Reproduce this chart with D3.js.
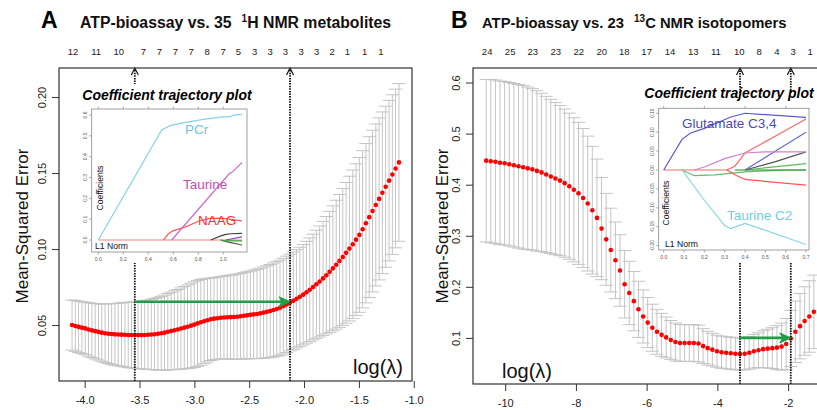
<!DOCTYPE html>
<html>
<head>
<meta charset="utf-8">
<script src="https://cdn.jsdelivr.net/npm/d3@7"></script>
<style>
  body { margin: 0; background: #fff; }
  svg { display: block; font-family: "Liberation Sans", Arial, sans-serif; }
</style>
</head>
<body>
<div id="chart"></div>
<script>
/* DATA — panel A (35 1H NMR metabolites) */
const logLambdaA = [
  -4.115,-4.085,-4.055,-4.025,-3.995,-3.965,-3.934,-3.904,-3.874,-3.844,
  -3.814,-3.784,-3.754,-3.724,-3.694,-3.664,-3.633,-3.603,-3.573,-3.543,
  -3.513,-3.483,-3.453,-3.423,-3.393,-3.363,-3.332,-3.302,-3.272,-3.242,
  -3.212,-3.182,-3.152,-3.122,-3.092,-3.062,-3.031,-3.001,-2.971,-2.941,
  -2.911,-2.881,-2.851,-2.821,-2.791,-2.761,-2.730,-2.700,-2.670,-2.640,
  -2.610,-2.580,-2.550,-2.520,-2.490,-2.460,-2.429,-2.399,-2.369,-2.339,
  -2.309,-2.279,-2.249,-2.219,-2.189,-2.159,-2.128,-2.098,-2.068,-2.038,
  -2.008,-1.978,-1.948,-1.918,-1.888,-1.858,-1.827,-1.797,-1.767,-1.737,
  -1.707,-1.677,-1.647,-1.617,-1.587,-1.556,-1.526,-1.496,-1.466,-1.436,
  -1.406,-1.376,-1.346,-1.316,-1.286,-1.256,-1.225,-1.195,-1.165,-1.135
];
const mseA = [
  0.0500,0.0494,0.0488,0.0483,0.0478,0.0471,0.0465,0.0460,0.0455,0.0450,
  0.0446,0.0443,0.0441,0.0439,0.0438,0.0437,0.0436,0.0435,0.0435,0.0434,
  0.0434,0.0434,0.0435,0.0436,0.0438,0.0440,0.0443,0.0446,0.0450,0.0456,
  0.0461,0.0466,0.0471,0.0477,0.0483,0.0489,0.0496,0.0503,0.0511,0.0518,
  0.0525,0.0532,0.0538,0.0542,0.0545,0.0548,0.0550,0.0551,0.0552,0.0553,
  0.0555,0.0558,0.0561,0.0564,0.0567,0.0570,0.0573,0.0577,0.0582,0.0587,
  0.0592,0.0599,0.0606,0.0614,0.0624,0.0636,0.0648,0.0660,0.0673,0.0686,
  0.0700,0.0716,0.0732,0.0750,0.0768,0.0787,0.0807,0.0828,0.0850,0.0873,
  0.0897,0.0922,0.0948,0.0975,0.1003,0.1032,0.1062,0.1093,0.1130,0.1170,
  0.1210,0.1250,0.1290,0.1330,0.1370,0.1410,0.1450,0.1490,0.1530,0.1570
];
const seA = [
  0.0165,0.0167,0.0169,0.0171,0.0173,0.0176,0.0179,0.0182,0.0185,0.0188,
  0.0192,0.0196,0.0200,0.0203,0.0206,0.0209,0.0212,0.0215,0.0217,0.0219,
  0.0221,0.0223,0.0225,0.0228,0.0231,0.0235,0.0239,0.0243,0.0247,0.0251,
  0.0255,0.0259,0.0263,0.0267,0.0271,0.0275,0.0279,0.0282,0.0283,0.0282,
  0.0279,0.0275,0.0271,0.0270,0.0270,0.0271,0.0272,0.0274,0.0276,0.0278,
  0.0280,0.0282,0.0284,0.0286,0.0288,0.0291,0.0294,0.0297,0.0300,0.0303,
  0.0306,0.0309,0.0311,0.0313,0.0315,0.0317,0.0318,0.0320,0.0323,0.0326,
  0.0330,0.0335,0.0341,0.0348,0.0356,0.0365,0.0375,0.0386,0.0398,0.0411,
  0.0424,0.0437,0.0450,0.0463,0.0476,0.0488,0.0499,0.0509,0.0517,0.0524,
  0.0529,0.0532,0.0533,0.0533,0.0532,0.0530,0.0528,0.0525,0.0522,0.0519
];
const topAtA  = [-4.106,-3.896,-3.69,-3.464,-3.318,-3.172,-3.029,-2.883,-2.737,-2.598,-2.45,-2.31,-2.17,-2.026,-1.886,-1.743,-1.606,-1.448,-1.30];
const topLabA = ["12","11","10","7","7","7","7","8","7","5","3","3","3","3","3","2","1","1","1"];

/* DATA — panel B (23 13C NMR isotopomers) */
const logLambdaB = [
  -10.537,-10.407,-10.276,-10.146,-10.015,-9.885,-9.754,-9.624,-9.493,-9.363,
  -9.232,-9.102,-8.971,-8.841,-8.710,-8.580,-8.449,-8.319,-8.188,-8.058,
  -7.927,-7.797,-7.666,-7.536,-7.405,-7.275,-7.144,-7.014,-6.883,-6.753,
  -6.622,-6.492,-6.361,-6.231,-6.100,-5.970,-5.839,-5.709,-5.578,-5.448,
  -5.317,-5.187,-5.056,-4.926,-4.795,-4.665,-4.534,-4.404,-4.273,-4.143,
  -4.012,-3.882,-3.751,-3.621,-3.490,-3.360,-3.229,-3.099,-2.968,-2.838,
  -2.707,-2.577,-2.446,-2.316,-2.185,-2.055,-1.924,-1.794,-1.663,-1.533,
  -1.402,-1.272
];
const mseB = [
  0.447,0.446,0.445,0.443,0.442,0.440,0.438,0.436,0.434,0.432,
  0.430,0.427,0.424,0.420,0.416,0.412,0.408,0.403,0.397,0.390,
  0.383,0.374,0.363,0.350,0.335,0.314,0.293,0.272,0.252,0.232,
  0.205,0.188,0.172,0.156,0.142,0.130,0.120,0.112,0.106,0.101,
  0.096,0.092,0.090,0.090,0.090,0.090,0.089,0.084,0.080,0.077,
  0.074,0.072,0.071,0.070,0.069,0.0686,0.069,0.071,0.074,0.076,
  0.078,0.079,0.080,0.081,0.083,0.088,0.099,0.112,0.123,0.133,
  0.142,0.151
];
const seB = [
  0.159,0.160,0.160,0.160,0.160,0.160,0.160,0.160,0.160,0.159,
  0.158,0.157,0.155,0.153,0.151,0.149,0.147,0.145,0.143,0.141,
  0.139,0.136,0.132,0.125,0.115,0.100,0.090,0.082,0.075,0.070,
  0.066,0.062,0.058,0.055,0.052,0.049,0.046,0.044,0.042,0.040,
  0.038,0.037,0.036,0.036,0.036,0.036,0.036,0.034,0.033,0.032,
  0.0314,0.0314,0.0314,0.0314,0.0314,0.0314,0.0314,0.032,0.033,0.034,
  0.036,0.038,0.040,0.043,0.046,0.050,0.055,0.060,0.064,0.067,
  0.070,0.072
];
const topAtB  = [-10.51,-9.86,-9.22,-8.57,-7.92,-7.27,-6.63,-6.00,-5.34,-4.68,-4.04,-3.38,-2.82,-2.32,-1.86,-1.38];
const topLabB = ["24","25","23","23","22","20","18","17","14","13","11","10","8","4","3","1"];

/* DATA — inset coefficient paths, [L1 norm, coefficient] */
// inset A
const pcrPath     = [[0,0],[0.507,0.528],[0.574,0.549],[0.654,0.56],[0.84,0.579],[0.974,0.59],[1.054,0.592],[1.08,0.6],[1.15,0.603]];
const taurinePath = [[0.587,0],[1.05,0.32],[1.07,0.325],[1.15,0.373]];
const naagPath    = [[0.52,0],[0.56,0.03],[0.6,0.045],[0.7,0.063],[0.8,0.09],[0.9,0.105],[1.0,0.104],[1.15,0.092]];
const zeroPathA   = [[0,0],[1.15,0]];
const blackPathA  = [[0.9,0],[0.98,0.02],[1.02,0.027],[1.06,0.03],[1.15,0.032]];
const purplePathA = [[1.02,0],[1.15,0.015]];
const greenPathA  = [[0.98,0],[1.0,-0.004],[1.15,-0.004]];
const greyPathA   = [[0.98,0],[1.04,-0.01],[1.15,-0.024]];
// inset B
const glutPath    = [[0,0],[0.09,0.081],[0.13,0.097],[0.2,0.11],[0.33,0.14],[0.4,0.15],[0.7,0.139]];
const taurC2Path  = [[0.09,0],[0.2,-0.08],[0.3,-0.147],[0.33,-0.155],[0.4,-0.141],[0.7,-0.197]];
const orchidPathB = [[0.15,0],[0.2,0.008],[0.3,0.03],[0.4,0.045],[0.5,0.048],[0.7,0.048]];
const redUpPathB  = [[0.31,0],[0.35,0.01],[0.4,0.045],[0.55,0.09],[0.7,0.135]];
const redDnPathB  = [[0.31,0],[0.36,-0.015],[0.4,-0.025],[0.7,-0.04]];
const bluePathB   = [[0.4,0],[0.55,0.05],[0.7,0.1]];
const blackPathB  = [[0.4,0],[0.55,0.022],[0.7,0.048]];
const greenUpB    = [[0.4,0],[0.7,0.017]];
const greenFlatB  = [[0.35,0],[0.7,0]];
const greenLowB   = [[0.09,0],[0.15,-0.015],[0.25,-0.013],[0.4,-0.005],[0.6,0],[0.7,0]];
const zeroPathB   = [[0,0],[0.31,0]];

/* CONSTANTS */
const W = 817, H = 410;
const svg = d3.select("#chart").append("svg").attr("width", W).attr("height", H);

const panels = [
  {
    lam: logLambdaA, mse: mseA, se: seA, minIdx: 19, seIdx: 66,
    x: d3.scaleLinear().domain([-4.234, -1.016]).range([59, 412]),
    y: d3.scaleLinear().domain([0.0132, 0.2191]).range([381, 68]),
    left: 59, right: 412, top: 68, bottom: 381,
    xTicks: [-4, -3.5, -3, -2.5, -2, -1.5, -1], xFmt: d => d.toFixed(1),
    yTicks: [0.05, 0.10, 0.15, 0.20], yFmt: d => d.toFixed(2),
    topAt: topAtA, topLab: topLabA,
    letter: "A", letterX: 41, titleX: 80, titleSize: 15.8,
    title: ["ATP-bioassay vs. 35", "1", "H NMR metabolites"],
    ylabX: 28, lamLab: [378, 374]
  },
  {
    lam: logLambdaB, mse: mseB, se: seB, minIdx: 55, seIdx: 66,
    x: d3.scaleLinear().domain([-10.91, -0.90]).range([473, 827]),
    y: d3.scaleLinear().domain([0.0098, 0.6284]).range([384, 68]),
    left: 473, right: 827, top: 68, bottom: 384,
    xTicks: [-10, -8, -6, -4, -2], xFmt: d => d.toFixed(0),
    yTicks: [0.1, 0.2, 0.3, 0.4, 0.5, 0.6], yFmt: d => d.toFixed(1),
    topAt: topAtB, topLab: topLabB,
    letter: "B", letterX: 451, titleX: 482, titleSize: 14.8,
    title: ["ATP-bioassay vs. 23", "13", "C NMR isotopomers"],
    ylabX: 448, lamLab: [527, 378]
  }
];

const insets = [
  {
    bg: [74, 84, 257, 263], box: [91.7, 109, 247, 252],
    xDomain: [-0.0528, 1.1896], yDomain: [-0.0576, 0.629],
    xTicks: [0, 0.2, 0.4, 0.6, 0.8, 1.0], xFmt: d => d.toFixed(1),
    yTicks: [0, 0.1, 0.2, 0.3, 0.4, 0.5, 0.6], yFmt: d => d.toFixed(1),
    topTicks: [0, 0.2, 0.4, 0.6, 0.8, 1.0],
    titleXY: [167, 100], coefXY: [100, 188], l1XY: [95, 248.5],
    paths: [
      [zeroPathA, "#ff7a7a"], [greyPathA, "#555"], [greenPathA, "#33aa33"],
      [purplePathA, "#8844cc"], [blackPathA, "#444"], [naagPath, "#ff5a5a"],
      [taurinePath, "#cc66cc"], [pcrPath, "#86d3e3"]
    ],
    labels: [
      ["PCr", 185, 133.5, "#6fc6dc"], ["Taurine", 183, 188.5, "#c24cb4"], ["NAAG", 198, 224.5, "#ff2e2e"]
    ]
  },
  {
    bg: [638, 94, 817, 262], box: [658.7, 108.3, 809, 250],
    xDomain: [-0.0246, 0.7147], yDomain: [-0.2115, 0.1631],
    xTicks: [0, 0.1, 0.2, 0.3, 0.4, 0.5, 0.6, 0.7], xFmt: d => d.toFixed(1),
    yTicks: [-0.20, -0.15, -0.10, -0.05, 0, 0.05, 0.10, 0.15], yFmt: d => d.toFixed(2),
    topTicks: [0, 0.2, 0.4, 0.6],
    titleXY: [729, 97.5], coefXY: [665.5, 203], l1XY: [665, 246.7],
    paths: [
      [zeroPathB, "#ff6666"], [greenLowB, "#66bb66"], [greenFlatB, "#228b22"], [greenUpB, "#55bb55"],
      [blackPathB, "#555"], [bluePathB, "#6a6ad0"], [redDnPathB, "#ff5555"], [redUpPathB, "#ff6666"],
      [orchidPathB, "#d080d0"], [taurC2Path, "#86d4e4"], [glutPath, "#5a5ac8"]
    ],
    labels: [
      ["Glutamate C3,4", 682, 128, "#4b4bb5"], ["Taurine C2", 727, 220, "#6fcde0"]
    ]
  }
];

/* DRAW */
panels.forEach(drawPanel);
insets.forEach(drawInset);
panels.forEach(drawFrame);

function drawPanel(p) {
  const g = svg.append("g");
  const x = p.x, y = p.y;
  const rows = p.lam.map((l, i) => ({ l, m: p.mse[i], up: p.mse[i] + p.se[i], lo: p.mse[i] - p.se[i] }));
  // half width of the error bar caps, as in glmnet's error.bars (2% of the lambda range)
  const barw = (d3.max(p.lam) - d3.min(p.lam)) * 0.02;

  const bars = g.append("g").attr("stroke", "#c4c4c4").attr("stroke-width", 1);
  bars.selectAll("line.v").data(rows).join("line").attr("class", "v")
    .attr("x1", d => x(d.l)).attr("x2", d => x(d.l))
    .attr("y1", d => y(d.up)).attr("y2", d => y(d.lo));
  ["up", "lo"].forEach(k => {
    bars.selectAll("line." + k).data(rows).join("line").attr("class", k)
      .attr("x1", d => x(d.l - barw)).attr("x2", d => x(d.l + barw))
      .attr("y1", d => y(d[k])).attr("y2", d => y(d[k]));
  });

  g.selectAll("circle").data(rows).join("circle")
    .attr("cx", d => x(d.l)).attr("cy", d => y(d.m)).attr("r", 2.3)
    .attr("fill", "#ff0000");

  // dotted lambda.min / lambda.1se lines with arrowheads at the top
  [p.minIdx, p.seIdx].forEach(i => {
    const xx = x(p.lam[i]);
    g.append("line").attr("x1", xx).attr("x2", xx).attr("y1", p.bottom).attr("y2", p.top + 1)
      .attr("stroke", "#111").attr("stroke-width", 1.8).attr("stroke-dasharray", "1.5,1.1");
    g.append("path").attr("d", `M${xx - 3.5},${p.top + 7}L${xx},${p.top}L${xx + 3.5},${p.top + 7}`)
      .attr("fill", "none").attr("stroke", "#111").attr("stroke-width", 1.2);
  });

  // green arrow from min's upper bar to the 1se lambda
  const ay = y(p.mse[p.minIdx] + p.se[p.minIdx]);
  const ax1 = x(p.lam[p.minIdx]), ax2 = x(p.lam[p.seIdx]);
  g.append("line").attr("x1", ax1).attr("x2", ax2 - 6).attr("y1", ay).attr("y2", ay)
    .attr("stroke", "#1f9e45").attr("stroke-width", 2.6);
  g.append("path").attr("d", `M${ax2},${ay}L${ax2 - 11},${ay - 5}L${ax2 - 8},${ay}L${ax2 - 11},${ay + 5}Z`)
    .attr("fill", "#1f9e45").attr("stroke", "#1f9e45").attr("stroke-width", 1);
}

function drawFrame(p) {
  const g = svg.append("g");
  const x = p.x, y = p.y;

  g.append("rect").attr("x", p.left).attr("y", p.top)
    .attr("width", p.right - p.left).attr("height", p.bottom - p.top)
    .attr("fill", "none").attr("stroke", "#333").attr("stroke-width", 1.2);

  const xAxis = g.append("g").attr("transform", `translate(0,${p.bottom})`)
    .call(d3.axisBottom(x).tickValues(p.xTicks).tickFormat(p.xFmt).tickSize(7).tickPadding(8).tickSizeOuter(0));
  xAxis.select(".domain").remove();
  xAxis.selectAll("line").attr("stroke", "#333");
  xAxis.selectAll("text").attr("font-size", 11).attr("fill", "#222").attr("font-family", null);

  const yAxis = g.append("g").attr("transform", `translate(${p.left},0)`)
    .call(d3.axisLeft(y).tickValues(p.yTicks).tickFormat(p.yFmt).tickSize(7).tickSizeOuter(0));
  yAxis.select(".domain").remove();
  yAxis.selectAll("line").attr("stroke", "#333");
  yAxis.selectAll("text")
    .attr("transform", "rotate(-90)").attr("x", 0).attr("y", -13).attr("dy", 0)
    .attr("text-anchor", "middle").attr("font-size", 11).attr("fill", "#222").attr("font-family", null);

  // number of non-zero coefficients along the top
  g.selectAll("text.top").data(p.topAt).join("text").attr("class", "top")
    .attr("x", d => x(d)).attr("y", 55).attr("text-anchor", "middle")
    .attr("font-size", 9.5).attr("fill", "#222")
    .text((d, i) => p.topLab[i]);

  g.append("text").attr("transform", `translate(${p.ylabX},226) rotate(-90)`)
    .attr("text-anchor", "middle").attr("font-size", 17).attr("fill", "#111")
    .text("Mean-Squared Error");

  g.append("text").attr("x", p.lamLab[0]).attr("y", p.lamLab[1]).attr("text-anchor", "middle")
    .attr("font-size", 20).attr("fill", "#111").text("log(λ)");

  g.append("text").attr("x", p.letterX).attr("y", 28).attr("font-size", 23)
    .attr("font-weight", "bold").attr("fill", "#000").text(p.letter);

  const t = g.append("text").attr("x", p.titleX).attr("y", 28).attr("font-size", p.titleSize)
    .attr("font-weight", "bold").attr("fill", "#111");
  t.append("tspan").text(p.title[0]);
  t.append("tspan").attr("font-size", 10).attr("dx", 10).attr("dy", -6).text(p.title[1]);
  t.append("tspan").attr("dy", 6).text(p.title[2]);
}

function drawInset(s) {
  const g = svg.append("g");
  const [bx0, by0, bx1, by1] = s.box;
  const x = d3.scaleLinear().domain(s.xDomain).range([bx0, bx1]);
  const y = d3.scaleLinear().domain(s.yDomain).range([by1, by0]);

  g.append("rect").attr("x", s.bg[0]).attr("y", s.bg[1])
    .attr("width", s.bg[2] - s.bg[0]).attr("height", s.bg[3] - s.bg[1]).attr("fill", "#fff");

  g.append("text").attr("x", s.titleXY[0]).attr("y", s.titleXY[1]).attr("text-anchor", "middle")
    .attr("font-size", 14).attr("font-weight", "bold").attr("font-style", "italic")
    .attr("fill", "#000").text("Coefficient trajectory plot");

  g.append("rect").attr("x", bx0).attr("y", by0).attr("width", bx1 - bx0).attr("height", by1 - by0)
    .attr("fill", "none").attr("stroke", "#888").attr("stroke-width", 0.8);

  const tk = g.append("g").attr("stroke", "#888").attr("stroke-width", 0.7);
  tk.selectAll("line.b").data(s.xTicks).join("line").attr("class", "b")
    .attr("x1", d => x(d)).attr("x2", d => x(d)).attr("y1", by1).attr("y2", by1 + 2.5);
  tk.selectAll("line.t").data(s.topTicks).join("line").attr("class", "t")
    .attr("x1", d => x(d)).attr("x2", d => x(d)).attr("y1", by0).attr("y2", by0 - 2.5);
  tk.selectAll("line.l").data(s.yTicks).join("line").attr("class", "l")
    .attr("x1", bx0).attr("x2", bx0 - 2.5).attr("y1", d => y(d)).attr("y2", d => y(d));

  g.selectAll("text.xt").data(s.xTicks).join("text").attr("class", "xt")
    .attr("x", d => x(d)).attr("y", by1 + 8.5).attr("text-anchor", "middle")
    .attr("font-size", 5).attr("fill", "#555").text(s.xFmt);
  g.selectAll("text.yt").data(s.yTicks).join("text").attr("class", "yt")
    .attr("transform", d => `translate(${bx0 - 4.5},${y(d)}) rotate(-90)`)
    .attr("text-anchor", "middle").attr("font-size", 5).attr("fill", "#555").text(s.yFmt);

  const line = d3.line().x(d => x(d[0])).y(d => y(d[1]));
  g.selectAll("path.coef").data(s.paths).join("path").attr("class", "coef")
    .attr("d", d => line(d[0])).attr("fill", "none")
    .attr("stroke", d => d[1]).attr("stroke-width", 1.2);

  g.selectAll("text.lab").data(s.labels).join("text").attr("class", "lab")
    .attr("x", d => d[1]).attr("y", d => d[2]).attr("font-size", 13.5)
    .attr("fill", d => d[3]).text(d => d[0]);

  g.append("text").attr("transform", `translate(${s.coefXY[0] + 3},${s.coefXY[1]}) rotate(-90)`)
    .attr("text-anchor", "middle").attr("font-size", 8.6).attr("fill", "#111").text("Coefficients");
  g.append("text").attr("x", s.l1XY[0]).attr("y", s.l1XY[1])
    .attr("font-size", 8.6).attr("fill", "#111").text("L1 Norm");
}
</script>
</body>
</html>
